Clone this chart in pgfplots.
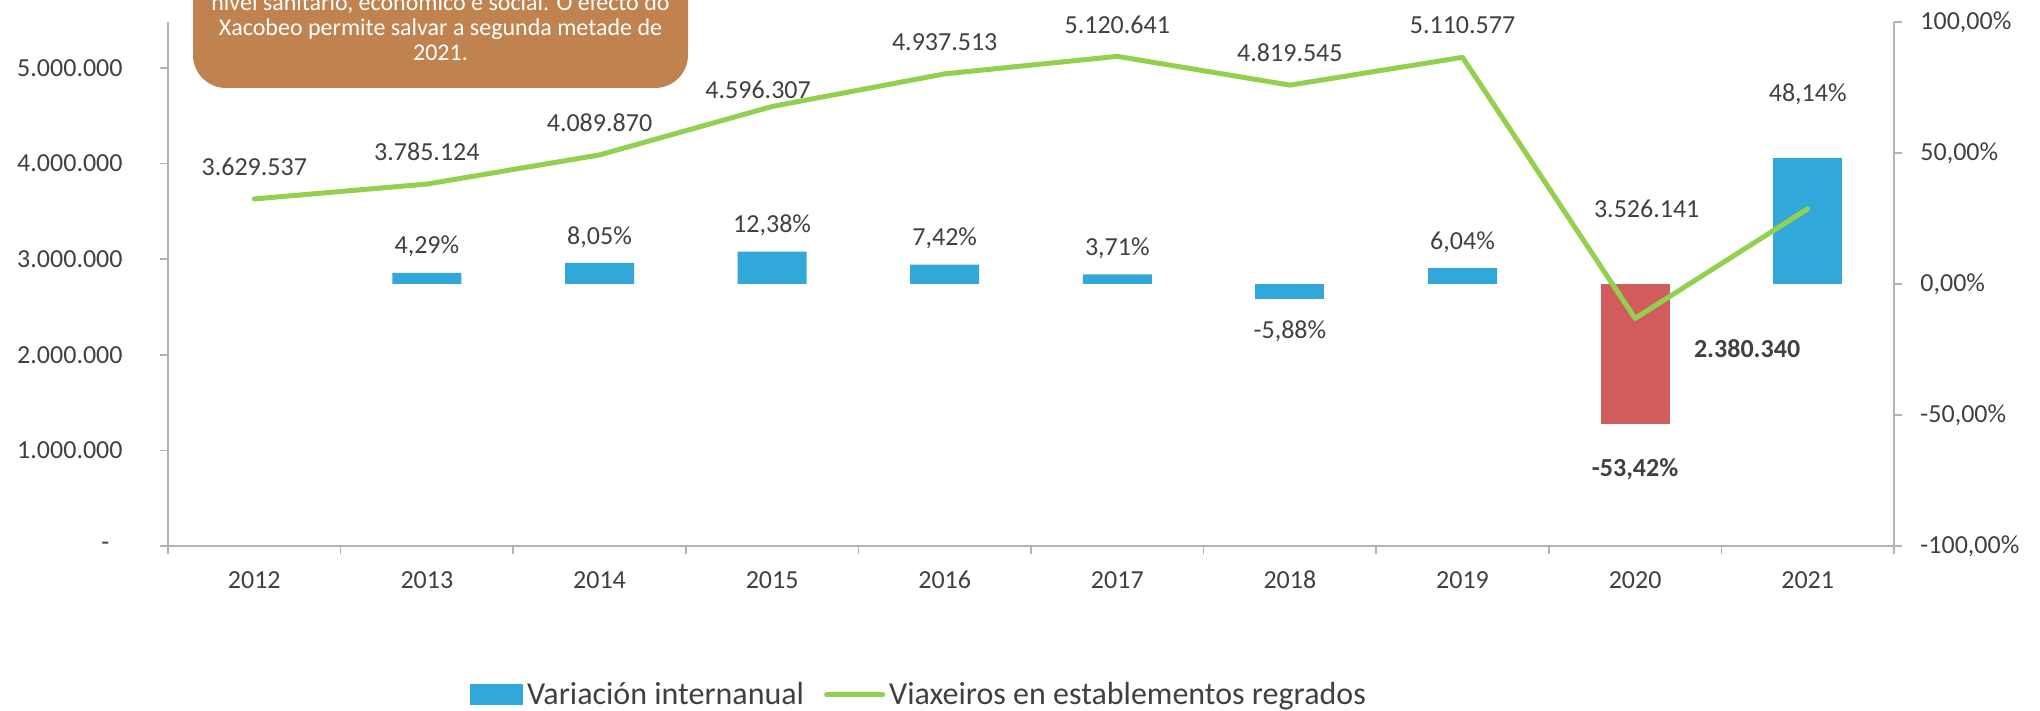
\documentclass[border=0pt]{standalone}
\usepackage{pgfplots}
\pgfplotsset{compat=1.18}
\usepackage{fontspec}
\setmainfont{Carlito}

\definecolor{textgray}{HTML}{404040}
\definecolor{axisgray}{HTML}{B3B3B3}
\definecolor{barblue}{HTML}{31A8D9}
\definecolor{barred}{HTML}{D05C5C}
\definecolor{linegreen}{HTML}{92D050}
\definecolor{boxbrown}{HTML}{C0824F}

\newcommand{\lblfont}{\fontsize{13}{15}\selectfont}

\begin{document}
\begin{tikzpicture}
\path[use as bounding box] (0,0) rectangle (1020pt,355.5pt);
\clip (0,0) rectangle (1020pt,355.5pt);

\pgfplotsset{
  base/.style={
    at={(84pt,82.5pt)}, anchor=south west,
    scale only axis, width=863pt, height=262pt,
    xmin=-0.5, xmax=9.5,
    axis line style={axisgray, line width=0.75pt},
    tick style={axisgray, line width=0.75pt},
    tick align=outside, major tick length=4pt,
    ticklabel style={text=textgray, font=\lblfont},
    scaled y ticks=false,
    /pgf/number format/assume math mode=true,
    clip=false,
  },
  barlbl/.style={point meta=explicit symbolic, nodes near coords,
    every node near coord/.append style={anchor=center, text=textgray, font=\lblfont, yshift=#1}},
}

% barras: variacion internanual (eixo dereito)
\begin{axis}[base,
  axis x line=none, axis y line*=right,
  ymin=-100, ymax=100,
  ytick={-100,-50,0,50,100},
  yticklabels={{-100,00\%},{-50,00\%},{0,00\%},{50,00\%},{100,00\%}},
  yticklabel style={anchor=west, inner sep=0pt, xshift=9pt},
]
\addplot[ybar, bar width=34.5pt, bar shift=0pt, fill=barblue, draw=none, barlbl=13pt]
  coordinates {(1,4.29)[4,29\%] (2,8.05)[8,05\%] (3,12.38)[12,38\%]
               (4,7.42)[7,42\%] (5,3.71)[3,71\%] (7,6.04)[6,04\%]};
\addplot[ybar, bar width=34.5pt, bar shift=0pt, fill=barblue, draw=none, barlbl=32pt]
  coordinates {(9,48.14)[48,14\%]};
\addplot[ybar, bar width=34.5pt, bar shift=0pt, fill=barblue, draw=none, barlbl=-16pt]
  coordinates {(6,-5.88)[-5,88\%]};
\addplot[ybar, bar width=34.5pt, bar shift=0pt, fill=barred, draw=none, barlbl=-22.5pt]
  coordinates {(8,-53.42)[\textbf{-53,42\%}]};
\end{axis}

% linha: viaxeiros (eixo esquerdo)
\begin{axis}[base,
  axis x line*=bottom, axis y line*=left,
  ymin=0, ymax=5480000,
  ytick={0,1000000,2000000,3000000,4000000,5000000},
  yticklabels={{-\hphantom{0}},{1.000.000},{2.000.000},{3.000.000},{4.000.000},{5.000.000}},
  yticklabel style={anchor=east, inner sep=0pt, xshift=-18.5pt},
  xtick={-0.5,0.5,1.5,2.5,3.5,4.5,5.5,6.5,7.5,8.5,9.5},
  x tick label as interval,
  xticklabels={2012,2013,2014,2015,2016,2017,2018,2019,2020,2021},
  xticklabel style={anchor=center, inner sep=0pt},
  xticklabel shift=13pt,
  legend columns=2,
  legend style={at={(0.4357,-0.284)}, anchor=center, draw=none, fill=none,
    font=\fontsize{16}{19}\selectfont, text=textgray,
    /tikz/every even column/.append style={column sep=8pt}},
]
\addlegendimage{legend image code/.code={\fill[barblue] (0pt,-5pt) rectangle (26pt,5pt);}}
\addlegendentry{Variación internanual}
\addplot[linegreen, line width=2.5pt, line cap=round, line join=round, mark=none,
  legend image code/.code={\draw[linegreen, line width=2.5pt] (0pt,0pt) -- (28pt,0pt);},
  barlbl=16pt]
  coordinates {(0,3629537)[3.629.537] (1,3785124)[3.785.124] (2,4089870)[4.089.870]
               (3,4596307)[] (4,4937513)[4.937.513] (5,5120641)[5.120.641]
               (6,4819545)[4.819.545] (7,5110577)[5.110.577] (8,2380340)[] (9,3526141)[]};
\addlegendentry{Viaxeiros en establementos regrados}
\addplot[draw=none, mark=none, forget plot, barlbl=8.5pt,
  every node near coord/.append style={xshift=-7pt}]
  coordinates {(3,4596307)[4.596.307]};
\addplot[draw=none, mark=none, forget plot, barlbl=-15pt,
  every node near coord/.append style={xshift=56pt}]
  coordinates {(8,2380340)[\textbf{2.380.340}]};
\addplot[draw=none, mark=none, forget plot, barlbl=0pt,
  every node near coord/.append style={xshift=-80.5pt}]
  coordinates {(9,3526141)[3.526.141]};
\end{axis}

% caixa de texto
\fill[boxbrown, rounded corners=16.5pt] (96.5pt,311.5pt) rectangle (344pt,420pt);
\begin{scope}[every node/.style={text=white, font=\fontsize{12}{12.5}\selectfont, anchor=base, inner sep=0pt}]
\node at (220.25pt,350.1pt) {nivel sanitario, económico e social. O efecto do};
\node at (220.25pt,337.6pt) {Xacobeo permite salvar a segunda metade de};
\node at (220.25pt,325.1pt) {2021.};
\end{scope}
\end{tikzpicture}
\end{document}
